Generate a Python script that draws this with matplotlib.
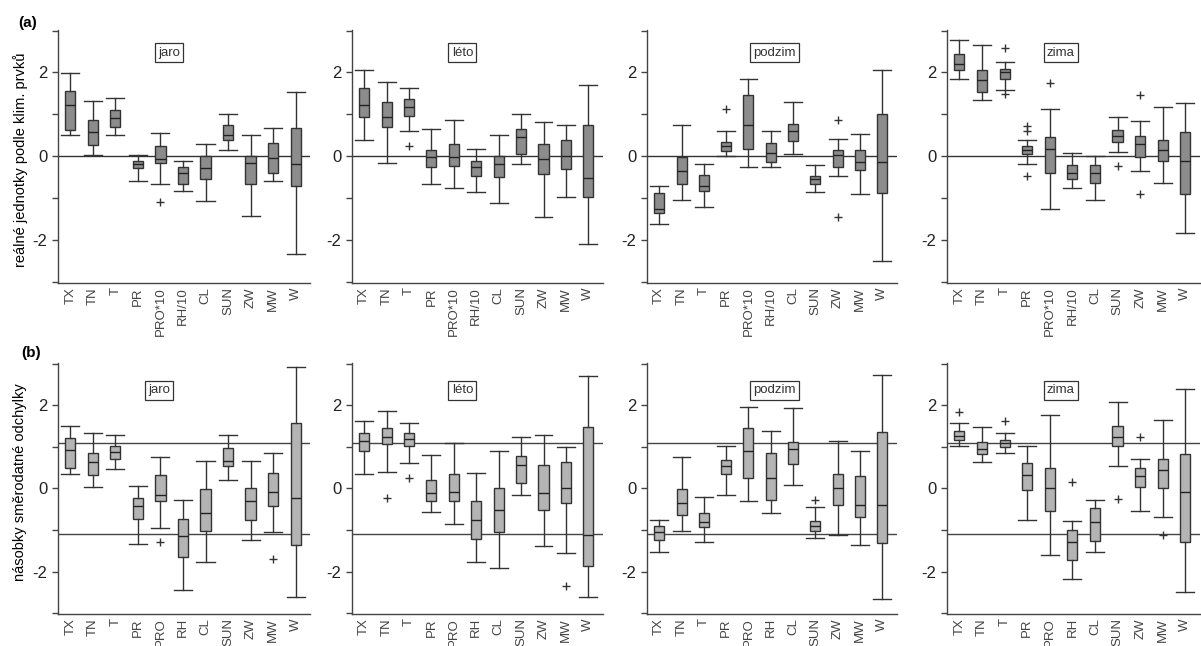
import matplotlib
matplotlib.use("Agg")
import matplotlib.pyplot as plt

plt.rcParams.update({
    'font.family': 'Liberation Sans',
    'font.size': 9,
    'axes.linewidth': 1.0,
})

labels_a = ['TX', 'TN', 'T', 'PR', 'PRO*10', 'RH/10', 'CL', 'SUN', 'ZW', 'MW', 'W']
labels_b = ['TX', 'TN', 'T', 'PR', 'PRO', 'RH', 'CL', 'SUN', 'ZW', 'MW', 'W']
seasons = ['jaro', 'léto', 'podzim', 'zima']

# (whisker low, q1, median, q3, whisker high) per element
a_jaro = [(0.50, 0.62, 1.23, 1.56, 1.98), (0.04, 0.28, 0.58, 0.86, 1.31), (0.52, 0.71, 0.92, 1.10, 1.40),
          (-0.60, -0.29, -0.19, -0.12, 0.02), (-0.65, -0.17, -0.06, 0.24, 0.56), (-0.83, -0.67, -0.40, -0.25, -0.10),
          (-1.06, -0.53, -0.28, 0.00, 0.29), (0.14, 0.38, 0.50, 0.74, 1.02), (-1.43, -0.65, -0.16, 0.00, 0.50),
          (-0.60, -0.40, -0.04, 0.32, 0.68), (-2.34, -0.70, -0.19, 0.67, 1.53)]
a_leto = [(0.40, 0.95, 1.23, 1.64, 2.07), (-0.16, 0.70, 0.93, 1.30, 1.78), (0.60, 0.96, 1.18, 1.37, 1.62),
          (-0.66, -0.26, -0.02, 0.14, 0.64), (-0.76, -0.24, -0.02, 0.29, 0.86), (-0.86, -0.46, -0.26, -0.11, 0.17),
          (-1.12, -0.50, -0.18, 0.00, 0.50), (-0.18, 0.06, 0.46, 0.66, 1.00), (-1.44, -0.43, -0.06, 0.29, 0.82),
          (-0.98, -0.30, 0.00, 0.38, 0.74), (-2.10, -0.98, -0.51, 0.74, 1.70)]
a_podzim = [(-1.62, -1.35, -1.26, -0.88, -0.70), (-1.03, -0.67, -0.34, -0.02, 0.74), (-1.22, -0.83, -0.70, -0.44, -0.18),
            (0.00, 0.13, 0.25, 0.34, 0.60), (-0.26, 0.18, 0.74, 1.46, 1.85), (-0.26, -0.14, 0.08, 0.32, 0.60),
            (0.05, 0.37, 0.61, 0.78, 1.30), (-0.84, -0.67, -0.54, -0.46, -0.20), (-0.46, -0.26, 0.02, 0.14, 0.42),
            (-0.90, -0.32, -0.14, 0.14, 0.54), (-2.50, -0.87, -0.14, 1.00, 2.06)]
a_zima = [(1.85, 2.05, 2.21, 2.45, 2.77), (1.34, 1.54, 1.82, 2.05, 2.66), (1.58, 1.85, 2.00, 2.09, 2.26),
          (-0.18, 0.05, 0.14, 0.25, 0.40), (-1.26, -0.40, 0.18, 0.45, 1.12), (-0.76, -0.55, -0.39, -0.20, 0.09),
          (-1.04, -0.63, -0.40, -0.20, 0.00), (0.10, 0.34, 0.48, 0.62, 0.94), (-0.36, -0.02, 0.30, 0.48, 0.84),
          (-0.63, -0.12, 0.14, 0.40, 1.18), (-1.83, -0.89, -0.10, 0.58, 1.28)]

b_jaro = [(0.35, 0.49, 0.93, 1.21, 1.51), (0.03, 0.33, 0.63, 0.84, 1.33), (0.47, 0.71, 0.87, 1.01, 1.29),
          (-1.33, -0.74, -0.43, -0.23, 0.05), (-0.96, -0.31, -0.15, 0.33, 0.76), (-2.44, -1.66, -1.14, -0.73, -0.27),
          (-1.76, -1.02, -0.58, -0.02, 0.65), (0.21, 0.53, 0.67, 0.97, 1.29), (-1.24, -0.77, -0.31, 0.00, 0.65),
          (-1.04, -0.43, -0.09, 0.37, 0.84), (-2.62, -1.36, -0.23, 1.56, 2.92)]
b_leto = [(0.35, 0.89, 1.13, 1.34, 1.62), (0.39, 1.07, 1.23, 1.46, 1.86), (0.61, 1.02, 1.19, 1.33, 1.57),
          (-0.56, -0.30, -0.12, 0.21, 0.81), (-0.85, -0.31, -0.08, 0.35, 1.10), (-1.77, -1.21, -0.77, -0.30, 0.37),
          (-1.91, -1.05, -0.52, 0.02, 0.89), (-0.15, 0.12, 0.55, 0.79, 1.23), (-1.39, -0.52, -0.11, 0.55, 1.29),
          (-1.56, -0.34, 0.02, 0.63, 0.99), (-2.62, -1.87, -1.12, 1.48, 2.69)]
b_podzim = [(-1.52, -1.25, -1.05, -0.91, -0.75), (-1.03, -0.63, -0.34, -0.02, 0.75), (-1.29, -0.93, -0.81, -0.58, -0.20),
            (-0.17, 0.34, 0.54, 0.69, 1.02), (-0.30, 0.26, 0.89, 1.45, 1.96), (-0.60, -0.28, 0.24, 0.85, 1.37),
            (0.08, 0.58, 0.95, 1.11, 1.93), (-1.19, -1.03, -0.90, -0.79, -0.44), (-1.11, -0.40, 0.02, 0.34, 1.13),
            (-1.35, -0.70, -0.41, 0.30, 0.90), (-2.66, -1.31, -0.40, 1.35, 2.72)]
b_zima = [(1.01, 1.17, 1.27, 1.37, 1.56), (0.63, 0.82, 0.95, 1.11, 1.47), (0.86, 0.99, 1.10, 1.17, 1.33),
          (-0.77, -0.04, 0.32, 0.62, 1.02), (-1.61, -0.54, 0.00, 0.50, 1.77), (-2.17, -1.71, -1.29, -1.01, -0.78),
          (-1.52, -1.27, -0.82, -0.46, -0.28), (0.53, 1.02, 1.23, 1.51, 2.08), (-0.54, 0.04, 0.29, 0.48, 0.71),
          (-0.70, 0.00, 0.44, 0.71, 1.64), (-2.48, -1.29, -0.08, 0.83, 2.40)]

# outliers: element index -> values
a_jaro_out = {4: [-1.09]}
a_leto_out = {2: [0.24]}
a_podzim_out = {3: [1.14], 8: [0.86, -1.44]}
a_zima_out = {2: [2.58, 1.48], 3: [0.72, 0.60, -0.47], 4: [1.74], 7: [-0.23], 8: [1.47, -0.89]}
b_jaro_out = {4: [-1.28], 9: [-1.70]}
b_leto_out = {1: [-0.22], 2: [0.25], 9: [-2.35]}
b_podzim_out = {7: [-0.28]}
b_zima_out = {0: [1.83], 2: [1.63], 5: [0.16], 7: [-0.25], 8: [1.23], 9: [-1.11]}

sd_line = 1.1

rows = [
    (labels_a, [a_jaro, a_leto, a_podzim, a_zima], [a_jaro_out, a_leto_out, a_podzim_out, a_zima_out], '#8c8c8c'),
    (labels_b, [b_jaro, b_leto, b_podzim, b_zima], [b_jaro_out, b_leto_out, b_podzim_out, b_zima_out], '#b4b4b4'),
]

fig = plt.figure(figsize=(12.01, 6.46), dpi=100)

lefts = [0.0483, 0.293, 0.5387, 0.7885]
widths = [0.21, 0.209, 0.208, 0.2107]
bottoms = [0.562, 0.0495]
heights = [0.392, 0.389]
title_x = [[0.44, 0.44, 0.51, 0.45], [0.40, 0.44, 0.51, 0.45]]
title_y = [0.91, 0.89]

line_col = '#333333'

for r, (labels, panels, outs, fill) in enumerate(rows):
    for c in range(4):
        ax = fig.add_axes([lefts[c], bottoms[r], widths[c], heights[r]])
        stats = []
        for i, (lo, q1, med, q3, hi) in enumerate(panels[c]):
            stats.append(dict(whislo=lo, q1=q1, med=med, q3=q3, whishi=hi,
                              fliers=outs[c].get(i, [])))
        # reference lines
        if r == 0:
            ax.axhline(0, color=line_col, lw=1.0, zorder=1)
        else:
            ax.axhline(sd_line, color='#444444', lw=1.0, zorder=1)
            ax.axhline(-sd_line, color='#444444', lw=1.0, zorder=1)
        ax.bxp(stats, positions=range(1, 12), widths=0.45, capwidths=0.8,
               patch_artist=True, manage_ticks=False,
               boxprops=dict(facecolor=fill, edgecolor=line_col, linewidth=1.0),
               medianprops=dict(color='#222222', linewidth=1.0),
               whiskerprops=dict(color=line_col, linewidth=1.0),
               capprops=dict(color=line_col, linewidth=1.0),
               flierprops=dict(marker='+', markersize=6, markeredgecolor='#333333',
                               markeredgewidth=1.0, linestyle='none'),
               zorder=2)
        ax.set_xlim(0.45, 11.65)
        ax.set_ylim(-3.02, 3.02)
        ax.set_xticks(range(1, 12))
        ax.set_xticklabels(labels, rotation=90, fontsize=9.5, color='#444444')
        ax.tick_params(axis='x', length=0, pad=3)
        ax.set_yticks([-2, 0, 2])
        ax.set_yticklabels(['-2', '0', '2'], fontsize=12, color='#222222')
        ax.set_yticks([-3, -1, 1, 3], minor=True)
        ax.tick_params(axis='y', which='both', length=4, width=1.0, color='#444444', direction='out')
        ax.spines['top'].set_visible(False)
        ax.spines['right'].set_visible(False)
        ax.spines['left'].set_color('#444444')
        ax.spines['bottom'].set_color('#444444')
        ax.text(title_x[r][c], title_y[r], seasons[c], transform=ax.transAxes,
                ha='center', va='center', fontsize=9.5, color='#333333',
                bbox=dict(boxstyle='square,pad=0.25', facecolor='white', edgecolor='#333333', linewidth=0.9))

fig.text(0.017, 0.752, 'reálné jednotky podle klim. prvků', rotation=90, ha='center', va='center', fontsize=10.5)
fig.text(0.017, 0.254, 'násobky směrodatné odchylky', rotation=90, ha='center', va='center', fontsize=10.5)
fig.text(0.023, 0.964, '(a)', ha='center', va='center', fontsize=11, fontweight='bold')
fig.text(0.026, 0.454, '(b)', ha='center', va='center', fontsize=11, fontweight='bold')

fig.savefig('out.png', dpi=100)
